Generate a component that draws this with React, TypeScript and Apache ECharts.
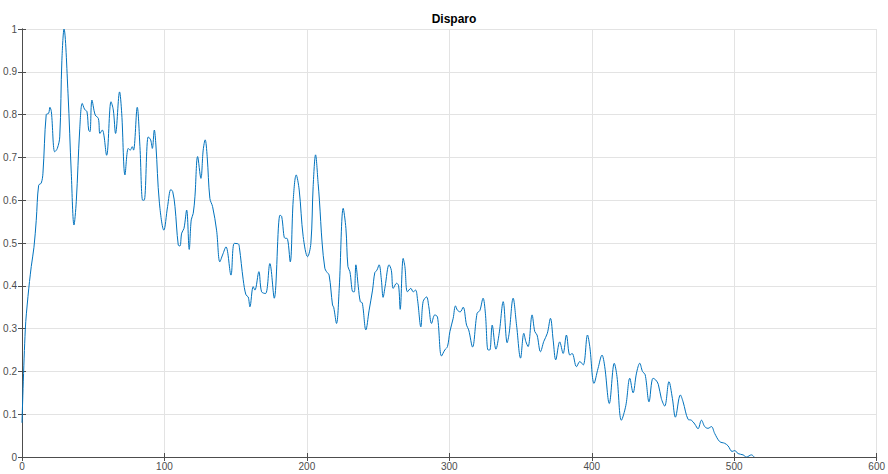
import React, { useEffect, useRef } from "react";
import * as echarts from "echarts";

const titleText = "Disparo";
const xTicks = [0, 100, 200, 300, 400, 500, 600];
const yTicks = [0, 0.1, 0.2, 0.3, 0.4, 0.5, 0.6, 0.7, 0.8, 0.9, 1];

const sampleX = [
  0, 2.3, 4.2, 6.5, 8.4, 10, 11.7, 13.5, 14.7, 17, 18.7, 19.6, 20.6, 23, 24.8, 26.5, 28, 29.5, 32.3, 34.6,
  36.5, 38.1, 40.5, 42.3, 44, 45.6, 46.8, 47.7, 49.1, 51.4, 53.6, 54.7, 56.4, 59.4, 62.5, 64.1, 65.7, 68.5, 70, 72.3,
  74.6, 76, 77.4, 78.3, 80.9, 82.8, 84.7, 85.8, 88.6, 90.3, 91.5, 92.9, 94, 96.4, 99.6, 102.2, 104.5, 105.8, 107.4, 109.7,
  110.9, 112.1, 113.7, 115.6, 117.4, 118.8, 120.2, 121.4, 123.3, 125.6, 127.2, 128.6, 130, 131.9, 133.8, 136.6, 138.9, 140.8, 143.2, 146.7,
  149, 151.8, 152.6, 155.3, 157.2, 158.8, 160, 162.3, 163.5, 166.3, 168.2, 171, 174, 177.1, 181.1, 182.3, 184.6, 186, 188.3, 190.4,
  192.5, 194.6, 197.4, 200.5, 202.8, 204.4, 206.1, 207.9, 208.8, 210.7, 212.6, 213.8, 215.6, 218, 218.8, 220.8, 222.7, 225.5, 227.4, 228.8,
  230.2, 232.3, 233.3, 234.4, 236.1, 237.5, 238.9, 241.4, 243.7, 246.1, 247.7, 249.1, 250.7, 252.3, 253.5, 254.9, 257.7, 259.3, 260.6, 263,
  264.4, 265.5, 267.6, 268.8, 270.6, 273, 274.6, 276.3, 277.7, 280, 281.6, 284, 285.6, 287.5, 289.8, 291.7, 294.5, 296.8, 298.7, 300.4,
  302.7, 304.3, 305.7, 307.6, 309.7, 312.1, 313.6, 316.3, 319.5, 321.4, 323.7, 325.3, 327.2, 328.4, 330.1, 332.7, 335, 337.8, 340.6, 342,
  344.8, 347.2, 350, 352.3, 353.7, 355.3, 358.1, 360, 361.6, 364, 366.3, 368.8, 371, 372.9, 374.7, 377.5, 379.9, 382.2, 384.6, 386.2,
  389.3, 391.6, 394, 397, 398.6, 401.6, 404.4, 407.2, 409.1, 412.3, 415.8, 417.7, 420.8, 423.9, 426.7, 429, 431.4, 433.7, 435.6, 437.5,
  440.2, 443, 444.9, 446.7, 448.8, 451.2, 454.2, 456.6, 458.7, 462.2, 464.1, 467.6, 469.9, 472.3, 474.6, 477, 479.3, 481.6, 484, 486.3,
  489.8, 493.3, 495.7, 498.5, 500.4, 502.7, 506.2, 508.6, 512.1, 514,
];

const sampleY = [
  0.08, 0.297, 0.375, 0.445, 0.49, 0.553, 0.635, 0.64, 0.663, 0.8, 0.803, 0.817, 0.807, 0.713, 0.721, 0.748, 0.927, 1.0, 0.85, 0.663,
  0.542, 0.597, 0.764, 0.826, 0.812, 0.807, 0.764, 0.76, 0.834, 0.799, 0.791, 0.756, 0.764, 0.705, 0.83, 0.811, 0.756, 0.853, 0.803, 0.659,
  0.721, 0.717, 0.725, 0.717, 0.817, 0.725, 0.6, 0.6, 0.748, 0.741, 0.721, 0.764, 0.729, 0.596, 0.53, 0.585, 0.625, 0.62, 0.585, 0.495,
  0.493, 0.523, 0.534, 0.577, 0.485, 0.554, 0.569, 0.608, 0.702, 0.651, 0.717, 0.741, 0.702, 0.604, 0.585, 0.53, 0.456, 0.472, 0.491, 0.425,
  0.499, 0.498, 0.49, 0.414, 0.379, 0.374, 0.351, 0.398, 0.39, 0.433, 0.386, 0.382, 0.452, 0.371, 0.565, 0.562, 0.511, 0.511, 0.456, 0.6,
  0.659, 0.624, 0.515, 0.468, 0.499, 0.632, 0.706, 0.639, 0.6, 0.5, 0.441, 0.433, 0.425, 0.355, 0.35, 0.312, 0.394, 0.581, 0.534, 0.445,
  0.433, 0.386, 0.386, 0.449, 0.398, 0.363, 0.36, 0.297, 0.343, 0.39, 0.431, 0.436, 0.449, 0.414, 0.373, 0.398, 0.449, 0.436, 0.394, 0.406,
  0.4, 0.345, 0.464, 0.445, 0.386, 0.394, 0.386, 0.39, 0.367, 0.304, 0.363, 0.374, 0.351, 0.312, 0.332, 0.327, 0.236, 0.25, 0.258, 0.293,
  0.324, 0.353, 0.343, 0.339, 0.35, 0.308, 0.297, 0.257, 0.336, 0.342, 0.371, 0.336, 0.25, 0.25, 0.308, 0.252, 0.289, 0.363, 0.267, 0.289,
  0.371, 0.308, 0.231, 0.289, 0.27, 0.258, 0.332, 0.293, 0.285, 0.246, 0.27, 0.289, 0.324, 0.273, 0.227, 0.269, 0.242, 0.285, 0.238, 0.242,
  0.211, 0.223, 0.215, 0.285, 0.258, 0.172, 0.207, 0.238, 0.211, 0.125, 0.219, 0.188, 0.086, 0.12, 0.184, 0.15, 0.196, 0.219, 0.2, 0.192,
  0.129, 0.184, 0.18, 0.17, 0.137, 0.119, 0.176, 0.137, 0.093, 0.145, 0.129, 0.088, 0.086, 0.077, 0.066, 0.086, 0.071, 0.067, 0.071, 0.055,
  0.036, 0.032, 0.026, 0.013, 0.015, 0.008, 0.005, 0.0, 0.005, 0.0,
];

export default function App() {
  const ref = useRef<HTMLDivElement>(null);
  useEffect(() => {
    if (!ref.current) return;
    const chart = echarts.init(ref.current, undefined, { renderer: "svg" });
    const font = "Liberation Sans, Arial, Helvetica, sans-serif";
    const axisColor = "#4d4d4d";
    const gridColor = "#e3e3e3";
    const data = sampleX.map((x, i) => [x, sampleY[i]]);
    const xMin = xTicks[0];
    const xMax = xTicks[xTicks.length - 1];
    const yMin = yTicks[0];
    const yMax = yTicks[yTicks.length - 1];
    chart.setOption({
      animation: false,
      backgroundColor: "#ffffff",
      title: {
        text: titleText,
        left: 449,
        top: 8,
        textAlign: "center",
        textStyle: { fontFamily: font, fontSize: 12, fontWeight: "bold", color: "#000" },
      },
      grid: { left: 22, right: 11, top: 29, bottom: 17, containLabel: false },
      xAxis: [
        {
          type: "value",
          min: xMin,
          max: xMax,
          interval: 100,
          position: "bottom",
          axisLine: { show: true, lineStyle: { color: axisColor, width: 1 } },
          axisTick: { show: true, inside: true, length: 4, lineStyle: { color: axisColor } },
          axisLabel: { color: axisColor, fontSize: 10, fontFamily: font, margin: 4 },
          splitLine: { show: true, lineStyle: { color: gridColor, width: 1 } },
        },
        {
          type: "value",
          min: xMin,
          max: xMax,
          interval: 100,
          position: "top",
          axisLine: { show: true, lineStyle: { color: axisColor, width: 1 } },
          axisTick: { show: true, inside: true, length: 4, lineStyle: { color: axisColor } },
          axisLabel: { show: false },
          splitLine: { show: false },
        },
      ],
      yAxis: [
        {
          type: "value",
          min: yMin,
          max: yMax,
          interval: 0.1,
          position: "left",
          axisLine: { show: true, lineStyle: { color: axisColor, width: 1 } },
          axisTick: { show: true, inside: true, length: 4, lineStyle: { color: axisColor } },
          axisLabel: { color: axisColor, fontSize: 10, fontFamily: font, margin: 5 },
          splitLine: { show: true, lineStyle: { color: gridColor, width: 1 } },
        },
        {
          type: "value",
          min: yMin,
          max: yMax,
          interval: 0.1,
          position: "right",
          axisLine: { show: true, lineStyle: { color: axisColor, width: 1 } },
          axisTick: { show: true, inside: true, length: 4, lineStyle: { color: axisColor } },
          axisLabel: { show: false },
          splitLine: { show: false },
        },
      ],
      series: [
        {
          type: "line",
          data,
          xAxisIndex: 0,
          yAxisIndex: 0,
          showSymbol: false,
          smooth: 0.35,
          lineStyle: { color: "#0072BD", width: 1 },
          itemStyle: { color: "#0072BD" },
        },
      ],
    });
    return () => chart.dispose();
  }, []);
  return (
    <div
      ref={ref}
      style={{ position: "fixed", left: 0, top: 0, width: 888, height: 474, background: "#fff" }}
    />
  );
}
